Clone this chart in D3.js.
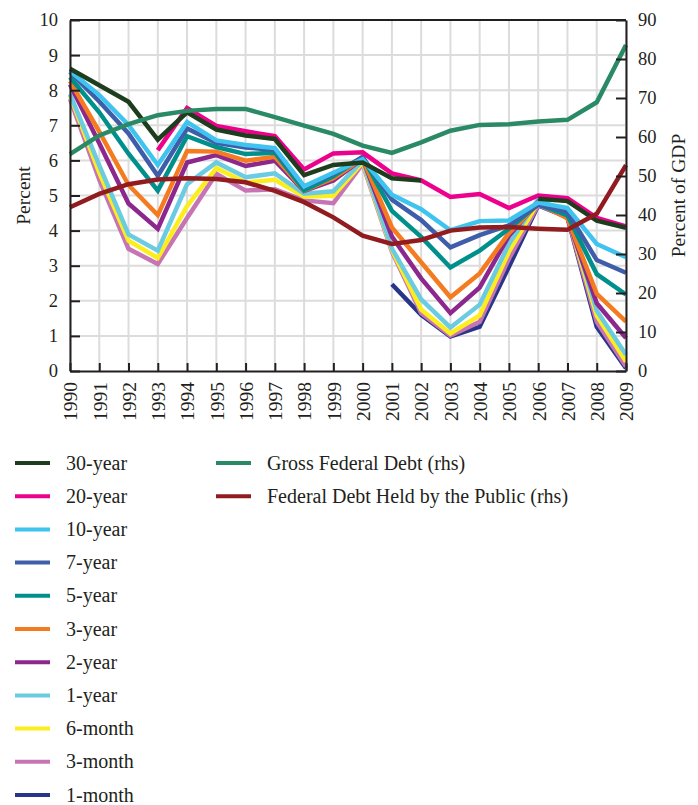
<!DOCTYPE html>
<html>
<head>
<meta charset="utf-8">
<script src="https://cdn.jsdelivr.net/npm/d3@7"></script>
<style>
  body { margin: 0; background: #fff; }
  svg text { font-family: "Liberation Serif", "Times New Roman", serif; fill: #231f20; }
  .axis text { font-size: 18.5px; }
  .axis path, .axis line { stroke: #231f20; stroke-width: 2; }
  .grid line { stroke: #dcdcdc; stroke-width: 2; }
  .legend text { font-size: 20px; }
  .title { font-size: 19.5px; }
</style>
</head>
<body>
<div id="chart"></div>
<script>
// ---- data ----
const years = d3.range(1990, 2010);

const y30 = [8.61, 8.14, 7.67, 6.59, 7.37, 6.88, 6.71, 6.61, 5.58, 5.87, 5.94, 5.49, 5.43, null, null, null, 4.91, 4.84, 4.28, 4.08];
const y20 = [null, null, null, 6.29, 7.49, 6.98, 6.83, 6.69, 5.74, 6.20, 6.23, 5.63, 5.43, 4.96, 5.04, 4.64, 5.00, 4.92, 4.36, 4.12];
const y10 = [8.55, 7.86, 7.01, 5.87, 7.09, 6.57, 6.44, 6.35, 5.26, 5.65, 6.03, 5.02, 4.61, 4.01, 4.27, 4.29, 4.80, 4.64, 3.62, 3.24];
const y7 = [8.52, 7.68, 6.77, 5.56, 6.91, 6.50, 6.37, 6.30, 5.25, 5.61, 6.10, 4.88, 4.30, 3.52, 3.87, 4.15, 4.74, 4.53, 3.16, 2.80];
const y5 = [8.37, 7.37, 6.19, 5.14, 6.69, 6.38, 6.18, 6.22, 5.15, 5.55, 6.10, 4.56, 3.82, 2.95, 3.43, 4.05, 4.75, 4.43, 2.76, 2.18];
const y3 = [8.26, 6.82, 5.30, 4.44, 6.27, 6.25, 5.99, 6.10, 5.14, 5.49, 6.05, 4.09, 3.10, 2.10, 2.78, 3.93, 4.77, 4.35, 2.20, 1.41];
const y2 = [8.16, 6.49, 4.77, 4.05, 5.94, 6.15, 5.84, 5.99, 5.13, 5.43, 6.05, 3.83, 2.64, 1.65, 2.38, 3.85, 4.82, 4.36, 1.93, 0.94];
const y1 = [7.89, 5.86, 3.89, 3.43, 5.32, 5.94, 5.52, 5.63, 5.05, 5.12, 6.00, 3.49, 2.04, 1.24, 1.89, 3.62, 4.90, 4.50, 1.72, 0.46];
const m6 = [7.85, 5.65, 3.71, 3.22, 4.70, 5.78, 5.37, 5.45, 4.97, 4.99, 5.95, 3.45, 1.75, 1.07, 1.58, 3.40, 4.81, 4.44, 1.58, 0.27];
const m3 = [7.75, 5.45, 3.48, 3.05, 4.36, 5.62, 5.14, 5.18, 4.86, 4.78, 5.90, 3.40, 1.65, 1.01, 1.40, 3.20, 4.73, 4.38, 1.40, 0.13];
const m1 = [null, null, null, null, null, null, null, null, null, null, null, 2.47, 1.60, 0.98, 1.26, 2.97, 4.72, 4.38, 1.26, 0.08];

const grossDebt = [55.6, 60.4, 63.3, 65.6, 66.7, 67.2, 67.2, 65.1, 62.9, 60.8, 57.8, 55.9, 58.6, 61.6, 63.1, 63.3, 64.0, 64.4, 68.9, 83.6];
const publicDebt = [42.0, 45.4, 47.9, 49.1, 49.4, 49.2, 48.4, 46.2, 43.3, 39.4, 34.7, 32.6, 33.6, 36.0, 36.8, 36.9, 36.5, 36.2, 40.3, 52.8];

const leftSeries = [
  { name: "30-year", values: y30, color: "#1d3d1c" },
  { name: "20-year", values: y20, color: "#ec008c" },
  { name: "10-year", values: y10, color: "#3fc3ef" },
  { name: "7-year", values: y7, color: "#3f5ea9" },
  { name: "5-year", values: y5, color: "#00908c" },
  { name: "3-year", values: y3, color: "#f47b20" },
  { name: "2-year", values: y2, color: "#8c288d" },
  { name: "1-year", values: y1, color: "#6bcbe0" },
  { name: "6-month", values: m6, color: "#fcee1e" },
  { name: "3-month", values: m3, color: "#c674b4" },
  { name: "1-month", values: m1, color: "#28358b" }
];
const rightSeries = [
  { name: "Gross Federal Debt (rhs)", values: grossDebt, color: "#2a8a66" },
  { name: "Federal Debt Held by the Public (rhs)", values: publicDebt, color: "#911b1f" }
];

// ---- layout ----
const width = 698, height = 805;
const plot = { left: 70, right: 626, top: 20, bottom: 371 };

const svg = d3.select("#chart").append("svg")
  .attr("width", width)
  .attr("height", height);

const x = d3.scaleLinear().domain([1990, 2009]).range([plot.left, plot.right]);
const yL = d3.scaleLinear().domain([0, 10]).range([plot.bottom, plot.top]);
const yR = d3.scaleLinear().domain([0, 90]).range([plot.bottom, plot.top]);

// gridlines
const grid = svg.append("g").attr("class", "grid");
grid.selectAll(".v").data(years).enter().append("line")
  .attr("x1", d => x(d)).attr("x2", d => x(d))
  .attr("y1", plot.top).attr("y2", plot.bottom);
grid.selectAll(".h").data(d3.range(1, 10)).enter().append("line")
  .attr("x1", plot.left).attr("x2", plot.right)
  .attr("y1", d => yL(d)).attr("y2", d => yL(d));

// lines
const lineL = d3.line().defined(d => d.v != null).x(d => x(d.year)).y(d => yL(d.v));
const lineR = d3.line().x(d => x(d.year)).y(d => yR(d.v));
const toPts = vals => vals.map((v, i) => ({ year: years[i], v }));

svg.append("g").selectAll("path")
  .data(leftSeries.slice().reverse())
  .enter().append("path")
  .attr("fill", "none")
  .attr("stroke", d => d.color)
  .attr("stroke-width", 4.5)
  .attr("d", d => lineL(toPts(d.values)));

svg.append("g").selectAll("path")
  .data(rightSeries)
  .enter().append("path")
  .attr("fill", "none")
  .attr("stroke", d => d.color)
  .attr("stroke-width", 4.5)
  .attr("d", d => lineR(toPts(d.values)));

// axes
svg.append("g")
  .attr("class", "axis")
  .attr("transform", `translate(0,${plot.bottom})`)
  .call(d3.axisBottom(x).tickValues(years).tickFormat(d3.format("d")).tickSize(-8).tickSizeOuter(0))
  .selectAll("text")
  .style("font-size", "19.5px")
  .attr("transform", "rotate(-90)")
  .attr("x", -11)
  .attr("y", 0)
  .attr("dy", "0.35em")
  .attr("text-anchor", "end");

svg.append("g")
  .attr("class", "axis")
  .attr("transform", `translate(${plot.left},0)`)
  .call(d3.axisLeft(yL).ticks(10).tickSize(-10).tickSizeOuter(0).tickPadding(12));

svg.append("g")
  .attr("class", "axis")
  .attr("transform", `translate(${plot.right},0)`)
  .call(d3.axisRight(yR).ticks(9).tickSize(-10).tickSizeOuter(0).tickPadding(12));

// top frame
svg.append("line")
  .attr("x1", plot.left).attr("x2", plot.right)
  .attr("y1", plot.top).attr("y2", plot.top)
  .attr("stroke", "#231f20").attr("stroke-width", 2);

// axis titles
svg.append("text").attr("class", "title")
  .attr("transform", `translate(30,${(plot.top + plot.bottom) / 2}) rotate(-90)`)
  .attr("text-anchor", "middle")
  .text("Percent");
svg.append("text").attr("class", "title")
  .attr("transform", `translate(685,${(plot.top + plot.bottom) / 2}) rotate(-90)`)
  .attr("text-anchor", "middle")
  .text("Percent of GDP");

// legend
const legend = svg.append("g").attr("class", "legend");
const rowGap = 33.2, legendTop = 463;

function addItems(items, x0) {
  const g = legend.append("g").selectAll("g")
    .data(items).enter().append("g")
    .attr("transform", (d, i) => `translate(${x0},${legendTop + i * rowGap})`);
  g.append("line")
    .attr("x1", 0).attr("x2", 35)
    .attr("stroke", d => d.color)
    .attr("stroke-width", 4);
  g.append("text")
    .attr("x", 51).attr("dy", "0.33em")
    .text(d => d.name);
}
addItems(leftSeries, 15);
addItems(rightSeries, 216);
</script>
</body>
</html>
